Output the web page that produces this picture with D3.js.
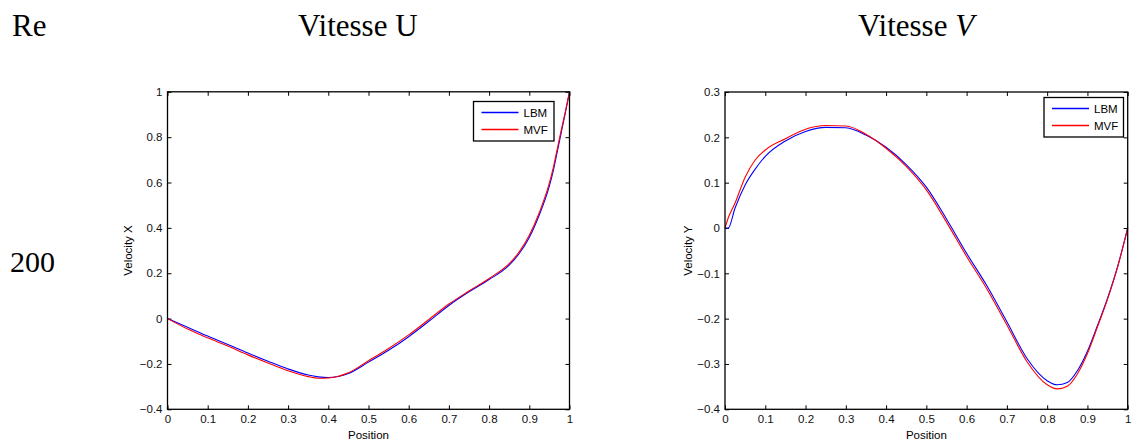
<!DOCTYPE html>
<html><head><meta charset="utf-8">
<script src="https://cdn.jsdelivr.net/npm/d3@7"></script>
<style>body{margin:0;background:#fff}svg{display:block}</style>
</head><body>
<svg id="c" width="1132" height="442"></svg>
<script>
// ---- data ----
const xTicks = [0,0.1,0.2,0.3,0.4,0.5,0.6,0.7,0.8,0.9,1];
const uTicks = [-0.4,-0.2,0,0.2,0.4,0.6,0.8,1];
const vTicks = [-0.4,-0.3,-0.2,-0.1,0,0.1,0.2,0.3];
const seriesNames = ["LBM","MVF"];

const uPos   = [0,0.05,0.1,0.15,0.2,0.25,0.3,0.35,0.375,0.4,0.425,0.45,0.5,0.55,0.6,0.65,0.7,0.75,0.8,0.85,0.875,0.9,0.925,0.95,0.96,0.97,0.98,0.99,1];
const uLBM   = [0,-0.038,-0.077,-0.114,-0.152,-0.188,-0.222,-0.249,-0.257,-0.260,-0.255,-0.242,-0.192,-0.140,-0.080,-0.012,0.058,0.118,0.172,0.236,0.287,0.358,0.458,0.585,0.655,0.740,0.825,0.910,1.0];
const uMVF   = [0,-0.046,-0.085,-0.121,-0.160,-0.196,-0.230,-0.256,-0.263,-0.262,-0.254,-0.239,-0.186,-0.132,-0.072,-0.004,0.064,0.122,0.177,0.242,0.294,0.367,0.468,0.598,0.668,0.752,0.835,0.915,1.0];

const vPos   = [0,0.008,0.025,0.05,0.075,0.1,0.15,0.2,0.25,0.3,0.35,0.4,0.45,0.5,0.55,0.6,0.65,0.7,0.75,0.8,0.825,0.85,0.875,0.9,0.925,0.95,0.975,1];
const vLBM   = [0,0,0.044,0.095,0.130,0.158,0.192,0.213,0.222,0.221,0.205,0.178,0.140,0.090,0.020,-0.056,-0.127,-0.207,-0.288,-0.337,-0.346,-0.341,-0.315,-0.272,-0.215,-0.155,-0.085,0];
const vMVF   = [0,0.022,0.055,0.112,0.150,0.172,0.197,0.218,0.226,0.225,0.207,0.176,0.136,0.084,0.013,-0.063,-0.134,-0.214,-0.295,-0.346,-0.355,-0.349,-0.322,-0.277,-0.218,-0.157,-0.086,0];

const colors = ["#0000ff","#ff0000"];

const svg = d3.select("#c");

// titles
const serif = "'Liberation Serif','Times New Roman',serif";
svg.append("text").attr("x",12).attr("y",36).attr("font-family",serif).attr("font-size",31).text("Re");
svg.append("text").attr("x",298).attr("y",36).attr("font-family",serif).attr("font-size",31).text("Vitesse U");
const tv = svg.append("text").attr("x",858).attr("y",36).attr("font-family",serif).attr("font-size",31);
tv.append("tspan").text("Vitesse ");
tv.append("tspan").attr("font-style","italic").text("V");
svg.append("text").attr("x",10).attr("y",272).attr("font-family",serif).attr("font-size",30).text("200");

const sans = "'Liberation Sans',Arial,sans-serif";

function panel(opt){
  const x = d3.scaleLinear().domain([0,1]).range([opt.x0,opt.x1]);
  const y = d3.scaleLinear().domain(opt.yDomain).range([opt.y1,opt.y0]);
  const g = svg.append("g");
  const fmt = d => (d===0?"0":d3.format("")(+d.toFixed(1)));

  // ticks inward on all sides
  const ax = [
    {a:d3.axisBottom(x).tickValues(xTicks).tickSize(-4).tickFormat(fmt), t:`translate(0,${opt.y1})`},
    {a:d3.axisTop(x).tickValues(xTicks).tickSize(-4).tickFormat(""), t:`translate(0,${opt.y0})`},
    {a:d3.axisLeft(y).tickValues(opt.yTicks).tickSize(-4).tickFormat(fmt), t:`translate(${opt.x0},0)`},
    {a:d3.axisRight(y).tickValues(opt.yTicks).tickSize(-4).tickFormat(""), t:`translate(${opt.x1},0)`}
  ];
  ax.forEach((o,i)=>{
    const ag = g.append("g").attr("transform",o.t).call(o.a.tickPadding(i===0?6:5));
    ag.select(".domain").remove();
    ag.selectAll("line").attr("stroke","#000").attr("stroke-width",1);
    ag.selectAll("text").attr("font-family",sans).attr("font-size",11.5).attr("fill","#111");
  });

  // lines
  const line = d3.line().x(d=>x(d[0])).y(d=>y(d[1])).curve(d3.curveMonotoneX);
  opt.series.forEach((s,i)=>{
    g.append("path").datum(opt.pos.map((p,k)=>[p,s[k]]))
      .attr("d",line).attr("fill","none").attr("stroke",colors[i]).attr("stroke-width",1.1);
  });

  // frame
  g.append("rect").attr("x",opt.x0).attr("y",opt.y0).attr("width",opt.x1-opt.x0).attr("height",opt.y1-opt.y0)
    .attr("fill","none").attr("stroke","#000").attr("stroke-width",1.3);

  // axis labels
  g.append("text").attr("x",(opt.x0+opt.x1)/2).attr("y",439).attr("text-anchor","middle")
    .attr("font-family",sans).attr("font-size",11.5).text("Position");
  g.append("text").attr("transform",`translate(${opt.ylabX},${(opt.y0+opt.y1)/2}) rotate(-90)`)
    .attr("text-anchor","middle").attr("font-family",sans).attr("font-size",11.5).text(opt.ylabel);

  // legend
  const L = opt.legend;
  const lg = g.append("g");
  lg.append("rect").attr("x",L.x).attr("y",L.y).attr("width",L.w).attr("height",L.h)
    .attr("fill","#fff").attr("stroke","#000").attr("stroke-width",1.3);
  seriesNames.forEach((n,i)=>{
    const yy = L.y + 11 + i*17;
    lg.append("line").attr("x1",L.x+8).attr("x2",L.x+45).attr("y1",yy).attr("y2",yy)
      .attr("stroke",colors[i]).attr("stroke-width",1.3);
    lg.append("text").attr("x",L.x+50).attr("y",yy+4).attr("font-family",sans).attr("font-size",11.5).text(n);
  });
}

panel({x0:167.5,x1:569.5,y0:91.8,y1:409.3,yDomain:[-0.4,1],yTicks:uTicks,pos:uPos,series:[uLBM,uMVF],
  ylabel:"Velocity X",ylabX:132,legend:{x:473.5,y:101.5,w:80.5,h:39.5}});
panel({x0:725,x1:1127.7,y0:92,y1:409.3,yDomain:[-0.4,0.3],yTicks:vTicks,pos:vPos,series:[vLBM,vMVF],
  ylabel:"Velocity Y",ylabX:692,legend:{x:1044,y:97.5,w:79.5,h:39.5}});
</script>
</body></html>
